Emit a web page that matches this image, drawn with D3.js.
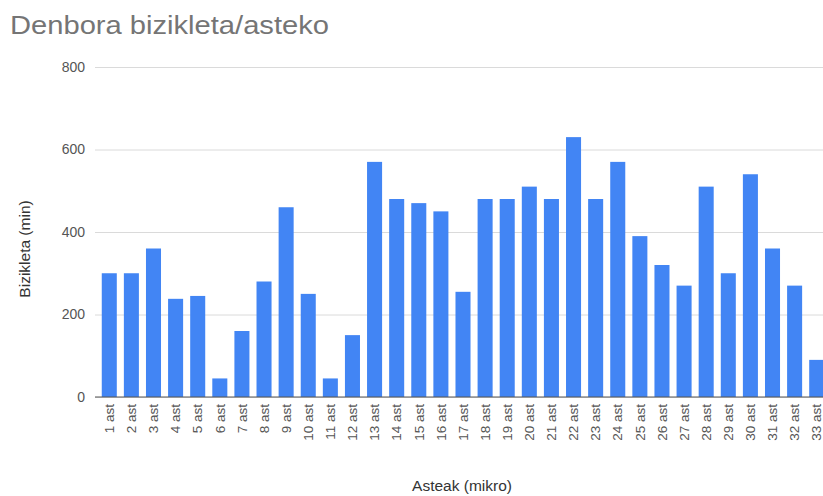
<!DOCTYPE html>
<html>
<head>
<meta charset="utf-8">
<script src="https://cdn.jsdelivr.net/npm/d3@7"></script>
<style>
  html, body { margin: 0; padding: 0; background: #fff; }
  svg { display: block; font-family: "Liberation Sans", Arial, sans-serif; }
</style>
</head>
<body>
<svg id="chart" width="823" height="496"></svg>
<script>
const weeks = ["1 ast","2 ast","3 ast","4 ast","5 ast","6 ast","7 ast","8 ast","9 ast","10 ast",
  "11 ast","12 ast","13 ast","14 ast","15 ast","16 ast","17 ast","18 ast","19 ast","20 ast",
  "21 ast","22 ast","23 ast","24 ast","25 ast","26 ast","27 ast","28 ast","29 ast","30 ast",
  "31 ast","32 ast","33 ast"];
const minutes = [300, 300, 360, 238, 245, 45, 160, 280, 460, 250,
  45, 150, 570, 480, 470, 450, 255, 480, 480, 510,
  480, 630, 480, 570, 390, 320, 270, 510, 300, 540,
  360, 270, 90];
const yTicks = [0, 200, 400, 600, 800];
const titleText = "Denbora bizikleta/asteko";
const yTitle = "Bizikleta (min)";
const xTitle = "Asteak (mikro)";

const svg = d3.select("#chart");
const W = 823, H = 496;
const plotLeft = 98, plotRight = 828, plotTop = 67, plotBottom = 397;

const x = d3.scaleBand().domain(weeks).range([plotLeft, plotRight]).paddingInner(0.32).paddingOuter(0.17);
const y = d3.scaleLinear().domain([0, 800]).range([plotBottom, plotTop]);

// title
svg.append("text")
  .attr("x", 10).attr("y", 34)
  .attr("font-size", 26.5)
  .attr("fill", "#757575")
  .attr("textLength", 319).attr("lengthAdjust", "spacingAndGlyphs")
  .text(titleText);

// gridlines
const yAxis = d3.axisLeft(y).tickValues(yTicks).tickSize(-(W - 95)).tickPadding(10);
const gy = svg.append("g").attr("transform", `translate(95,0)`).call(yAxis);
gy.select(".domain").remove();
gy.selectAll(".tick line").attr("stroke", "#dadada").attr("stroke-width", 1);
gy.selectAll(".tick text")
  .attr("x", -10)
  .attr("font-size", 14)
  .attr("fill", "#555")
  .attr("font-family", "Liberation Sans, Arial, sans-serif");

// bars
svg.append("g").selectAll("rect")
  .data(weeks.map((w, i) => ({ w, v: minutes[i] })))
  .join("rect")
  .attr("x", d => x(d.w))
  .attr("y", d => y(d.v))
  .attr("width", x.bandwidth())
  .attr("height", d => y(0) - y(d.v))
  .attr("fill", "#4285F4");

// baseline
svg.append("line")
  .attr("x1", 95).attr("x2", W)
  .attr("y1", y(0)).attr("y2", y(0))
  .attr("stroke", "#555").attr("stroke-width", 1);

// x labels
const xAxis = d3.axisBottom(x).tickSize(0).tickPadding(0);
const gx = svg.append("g").attr("transform", `translate(0,${plotBottom})`).call(xAxis);
gx.select(".domain").remove();
gx.selectAll(".tick text")
  .attr("font-size", 13.5)
  .attr("fill", "#555")
  .attr("font-family", "Liberation Sans, Arial, sans-serif")
  .attr("text-anchor", "end")
  .attr("transform", "rotate(-90)")
  .attr("x", -7)
  .attr("y", 0)
  .attr("dy", "0.35em");

// axis titles
svg.append("text")
  .attr("transform", `translate(30,249) rotate(-90)`)
  .attr("text-anchor", "middle")
  .attr("font-size", 15.5)
  .attr("fill", "#333")
  .text(yTitle);

svg.append("text")
  .attr("x", 462).attr("y", 491)
  .attr("text-anchor", "middle")
  .attr("font-size", 15.5)
  .attr("fill", "#333")
  .text(xTitle);
</script>
</body>
</html>
